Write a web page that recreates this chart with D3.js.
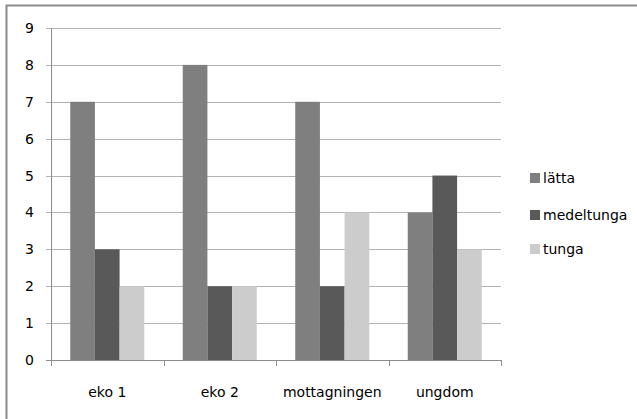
<!DOCTYPE html>
<html><head><meta charset="utf-8">
<script src="https://cdn.jsdelivr.net/npm/d3@7"></script>
<style>body{margin:0;background:#fff}svg{display:block}text{font-family:"DejaVu Sans",sans-serif;fill:#000}</style>
</head><body>
<svg id="c" width="637" height="419"></svg>
<script>
const categories = ["eko 1", "eko 2", "mottagningen", "ungdom"];
const seriesNames = ["lätta", "medeltunga", "tunga"];
const latta = [7, 8, 7, 4];
const medeltunga = [3, 2, 2, 5];
const tunga = [2, 2, 4, 3];
const yTicks = [0, 1, 2, 3, 4, 5, 6, 7, 8, 9];
const colors = ["#7f7f7f", "#595959", "#cccccc"];
const seriesValues = [latta, medeltunga, tunga];

(function () {
const svg = d3.select("#c");
svg.append("rect").attr("x", 6.5).attr("y", 5.5).attr("width", 640).attr("height", 420)
  .attr("fill", "#fff").attr("stroke", "#8c8c8c").attr("stroke-width", 2);

const pLeft = 51, pRight = 501, pTop = 28, pBottom = 360;
const x = d3.scaleBand().domain(categories).range([pLeft, pRight]);
const x1 = d3.scaleBand().domain(seriesNames).range([0, x.bandwidth()]).paddingInner(0).paddingOuter(0.78);
const y = d3.scaleLinear().domain([0, 9]).range([pBottom, pTop]);

svg.append("g").selectAll("line").data(yTicks.filter(d => d > 0)).join("line")
  .attr("x1", pLeft - 5).attr("x2", pRight)
  .attr("y1", d => Math.round(y(d)) + 0.5).attr("y2", d => Math.round(y(d)) + 0.5)
  .attr("stroke", "#b3b3b3").attr("stroke-width", 1);
svg.append("line").attr("x1", pLeft - 5).attr("x2", pRight).attr("y1", pBottom + 0.5).attr("y2", pBottom + 0.5)
  .attr("stroke", "#8c8c8c");
svg.append("line").attr("x1", pLeft + 0.5).attr("x2", pLeft + 0.5).attr("y1", pTop).attr("y2", pBottom + 1)
  .attr("stroke", "#8c8c8c");

svg.append("g").selectAll("text").data(yTicks).join("text")
  .attr("x", 34).attr("y", d => y(d)).attr("text-anchor", "end").attr("dy", "0.36em")
  .attr("font-size", 14).text(d => d);

const groups = svg.append("g").selectAll("g").data(categories).join("g")
  .attr("transform", d => `translate(${x(d)},0)`);
groups.selectAll("rect").data((c, i) => seriesNames.map((s, j) => ({ s, j, v: seriesValues[j][i] }))).join("rect")
  .attr("x", d => x1(d.s)).attr("width", x1.bandwidth())
  .attr("y", d => y(d.v)).attr("height", d => y(0) - y(d.v))
  .attr("fill", d => colors[d.j]);

const tickXs = [pLeft, ...categories.map(c => x(c) + x.bandwidth())];
svg.append("g").selectAll("line").data(tickXs).join("line")
  .attr("x1", d => Math.round(d) + 0.5).attr("x2", d => Math.round(d) + 0.5)
  .attr("y1", pBottom).attr("y2", pBottom + 6).attr("stroke", "#8c8c8c");

svg.append("g").selectAll("text").data(categories).join("text")
  .attr("x", d => x(d) + x.bandwidth() / 2).attr("y", 397)
  .attr("text-anchor", "middle").attr("font-size", 14).text(d => d);

const legY = [178, 215, 249];
const leg = svg.append("g").selectAll("g").data(seriesNames).join("g")
  .attr("transform", (d, i) => `translate(530,${legY[i]})`);
leg.append("rect").attr("x", 0).attr("y", -5).attr("width", 10).attr("height", 10)
  .attr("fill", (d, i) => colors[i]);
leg.append("text").attr("x", 13).attr("y", 0).attr("dy", "0.36em").attr("font-size", 14).text(d => d);
})();
</script>
</body></html>
